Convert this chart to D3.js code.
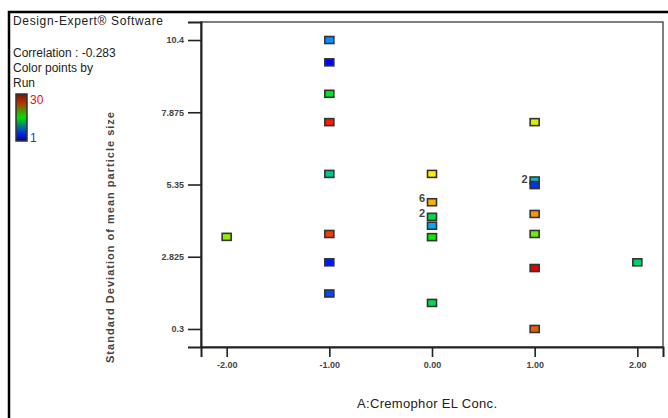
<!DOCTYPE html>
<html>
<head>
<meta charset="utf-8">
<script src="https://cdn.jsdelivr.net/npm/d3@7"></script>
<style>
  html, body { margin: 0; padding: 0; background: #fff; }
  svg { display: block; font-family: Arial, "Liberation Sans", sans-serif; }
</style>
</head>
<body>
<svg id="chart" width="668" height="418"></svg>
<script>
// ---- data ----
const xValues = [-1, -1, -1, -1, -1, -1, -1, -1, -2, 0, 0, 0, 0, 0, 0, 1, 1, 1, 1, 1, 1, 1, 2];
const yValues = [10.4, 9.62, 8.52, 7.53, 5.72, 3.62, 2.63, 1.54, 3.52, 5.72, 4.73, 4.22, 3.91, 3.51, 1.21, 7.53, 5.49, 5.33, 4.32, 3.62, 2.43, 0.3, 2.63];
const runValues = [7, 1, 14, 29, 11, 28, 2, 4, 19, 22, 24, 13, 8, 15, 13, 21, 10, 3, 25, 18, 30, 27, 12];
const repX = [0, 0, 1];
const repY = [4.73, 4.22, 5.41];
const repText = ["6", "2", "2"];
const xTickValues = [-2, -1, 0, 1, 2];
const xTickLabels = ["-2.00", "-1.00", "0.00", "1.00", "2.00"];
const yTickValues = [0.3, 2.825, 5.35, 7.875, 10.4];
const yTickLabels = ["0.3", "2.825", "5.35", "7.875", "10.4"];
const headerLines = ["Correlation : -0.283", "Color points by", "Run"];

const svg = d3.select("#chart");
const L = 201, R = 663, T = 22, B = 347;

const x = d3.scaleLinear().domain([-2.25, 2.25]).range([L, R]);
const y = d3.scaleLinear().domain([-0.33, 11.03]).range([B, T]);
const color = d3.scaleLinear()
  .domain([1, 8, 15, 22, 30])
  .range(["#0000ff", "#00aaff", "#00ee00", "#ffee00", "#ee0000"]);

// outer border (top + left)
svg.append("path").attr("d", "M9,418 L9,12 L668,12")
  .attr("fill", "none").attr("stroke", "#000").attr("stroke-width", 2.5);

// header texts
svg.append("text").attr("x", 13).attr("y", 25).attr("font-size", 12)
  .attr("fill", "#222").attr("textLength", 150).text("Design-Expert\u00AE Software");
svg.selectAll("text.hdr").data(headerLines).enter().append("text")
  .attr("class", "hdr").attr("x", 13).attr("y", (d, i) => 57 + i * 15)
  .attr("font-size", 12).attr("fill", "#222").text(d => d);

// legend gradient
const defs = svg.append("defs");
const grad = defs.append("linearGradient").attr("id", "lg")
  .attr("x1", 0).attr("y1", 0).attr("x2", 0).attr("y2", 1);
[["0%", "#7a1200"], ["18%", "#b83000"], ["50%", "#00e000"], ["82%", "#0030e0"], ["100%", "#0000a0"]]
  .forEach(s => grad.append("stop").attr("offset", s[0]).attr("stop-color", s[1]));
svg.append("rect").attr("x", 16).attr("y", 94).attr("width", 11).attr("height", 47)
  .attr("fill", "url(#lg)").attr("stroke", "#333").attr("stroke-width", 1.5);
svg.append("text").attr("x", 30).attr("y", 104).attr("font-size", 12).attr("fill", "#e01010").text("30");
svg.append("text").attr("x", 30).attr("y", 142).attr("font-size", 12).attr("fill", "#3030d0").text("1");

// plot frame
svg.append("rect").attr("x", L).attr("y", T).attr("width", R - L).attr("height", B - T)
  .attr("fill", "none").attr("stroke", "#555").attr("stroke-width", 1.5);

// axes
const yAxis = d3.axisLeft(y).tickValues(yTickValues)
  .tickFormat((d, i) => yTickLabels[i]).tickSize(13).tickPadding(4);
const gy = svg.append("g").attr("transform", `translate(${L},0)`).call(yAxis);
gy.select(".domain").attr("stroke", "#222").attr("stroke-width", 2);
gy.selectAll(".tick line").attr("stroke", "#222").attr("stroke-width", 1.6);
gy.selectAll(".tick text").attr("font-size", 9).attr("font-weight", "bold").attr("fill", "#444")
  .attr("font-family", "Arial, 'Liberation Sans', sans-serif");

const xAxis = d3.axisBottom(x).tickValues(xTickValues)
  .tickFormat((d, i) => xTickLabels[i]).tickSize(10).tickPadding(5);
const gx = svg.append("g").attr("transform", `translate(0,${B})`).call(xAxis);
gx.select(".domain").attr("stroke", "#222").attr("stroke-width", 2);
gx.selectAll(".tick line").attr("stroke", "#222").attr("stroke-width", 1.6);
gx.selectAll(".tick text").attr("font-size", 9).attr("font-weight", "bold").attr("fill", "#444")
  .attr("font-family", "Arial, 'Liberation Sans', sans-serif");

// axis titles
svg.append("text").attr("x", 427).attr("y", 408).attr("text-anchor", "middle")
  .attr("font-size", 13).attr("fill", "#222").attr("textLength", 140)
  .text("A:Cremophor EL Conc.");
svg.append("text").attr("transform", "translate(114,237.5) rotate(-90)")
  .attr("text-anchor", "middle").attr("font-size", 11).attr("font-weight", "bold")
  .attr("fill", "#444").attr("textLength", 251)
  .text("Standard Deviation of mean particle size");

// points
const pts = xValues.map((v, i) => ({ x: v, y: yValues[i], run: runValues[i] }));
svg.append("g").selectAll("rect").data(pts).enter().append("rect")
  .attr("x", d => x(d.x) - 4.5).attr("y", d => y(d.y) - 3.5)
  .attr("width", 9).attr("height", 7)
  .attr("fill", d => color(d.run))
  .attr("stroke", "#333").attr("stroke-width", 1.6);

// replicate count labels
svg.append("g").selectAll("text").data(repX.map((v, i) => ({ x: v, y: repY[i], t: repText[i] })))
  .enter().append("text")
  .attr("x", d => x(d.x) - 7).attr("y", d => y(d.y))
  .attr("text-anchor", "end").attr("font-size", 11).attr("font-weight", "bold").attr("fill", "#444")
  .text(d => d.t);
</script>
</body>
</html>
